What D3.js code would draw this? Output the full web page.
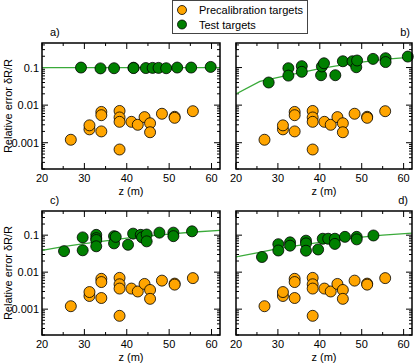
<!DOCTYPE html>
<html>
<head>
<meta charset="utf-8">
<script src="https://cdn.jsdelivr.net/npm/d3@7"></script>
<style>
  body { margin: 0; background: #fff; }
  svg { display: block; font-family: "Liberation Sans", Arial, sans-serif; }
</style>
</head>
<body>
<div id="chart"></div>
<script>
// precalibration targets (same in every panel)
var preZ   = [26.8, 31.2, 31.2, 34.0, 34.0, 34.0, 38.3, 38.3, 38.3, 38.3, 41.1, 42.6, 44.2, 45.5, 45.5, 48.3, 51.3, 51.3, 55.6];
var preErr = [0.0012, 0.00227, 0.0029, 0.0066, 0.0054, 0.0020, 0.0070, 0.0047, 0.0036, 0.00066, 0.0036, 0.0030, 0.0048, 0.0033, 0.0019, 0.0059, 0.0049, 0.0046, 0.0069];

// test targets, per panel
var testZA   = [29.2, 33.8, 37.0, 41.6, 41.6, 44.5, 46.1, 47.5, 49.3, 51.9, 55.2, 59.8];
var testErrA = [0.100, 0.095, 0.096, 0.099, 0.097, 0.097, 0.098, 0.098, 0.096, 0.100, 0.100, 0.104];

var testZB   = [27.8, 32.5, 32.5, 35.7, 35.7, 40.3, 40.5, 41.0, 43.7, 45.5, 47.8, 48.7, 48.9, 52.7, 55.7, 55.7, 61.0];
var testErrB = [0.040, 0.096, 0.061, 0.109, 0.077, 0.0625, 0.107, 0.130, 0.0625, 0.147, 0.147, 0.102, 0.154, 0.170, 0.177, 0.140, 0.196];

var testZC   = [25.2, 29.6, 29.6, 32.8, 32.8, 32.8, 32.8, 37.0, 37.0, 37.4, 40.3, 41.5, 43.3, 43.6, 44.7, 44.7, 47.7, 51.0, 51.0, 55.4];
var testErrC = [0.037, 0.087, 0.039, 0.102, 0.083, 0.074, 0.050, 0.094, 0.060, 0.090, 0.055, 0.110, 0.102, 0.087, 0.104, 0.068, 0.117, 0.117, 0.094, 0.127];

var testZD   = [26.2, 30.1, 30.1, 32.9, 32.9, 36.7, 36.7, 36.7, 39.6, 40.7, 42.0, 43.6, 43.6, 46.0, 48.8, 48.8, 52.8];
var testErrD = [0.0257, 0.057, 0.0385, 0.064, 0.052, 0.071, 0.060, 0.038, 0.041, 0.080, 0.080, 0.080, 0.058, 0.090, 0.090, 0.077, 0.098];

// green curves
var fitZA = [20, 62];
var fitA  = [0.1, 0.1];
var fitZB = [20, 25.7, 32, 40, 48, 56, 62];
var fitB  = [0.0199, 0.043, 0.061, 0.094, 0.131, 0.167, 0.189];
var fitZC = [20, 25, 30, 35, 40, 45, 50, 55, 62];
var fitC  = [0.039, 0.049, 0.059, 0.070, 0.083, 0.095, 0.107, 0.120, 0.135];
var fitZD = [20, 25, 30, 35, 40, 45, 50, 55, 62];
var fitD  = [0.026, 0.033, 0.043, 0.053, 0.064, 0.076, 0.088, 0.100, 0.113];

var xTicks = [20, 30, 40, 50, 60];
var yTicks = [0.1, 0.01, 0.001];
var yTickLabels = ['0.1', '0.01', '0.001'];
var legendLabels = ['Precalibration targets', 'Test targets'];

var ORANGE = '#ffa500', GREEN = '#008000', LINE = '#3aaa3a';

var svg = d3.select('#chart').append('svg')
    .attr('width', 415).attr('height', 363);

var panels = [
    { id: 'a', x: 42,  y: 43,  w: 178, h: 126, tz: testZA, te: testErrA, fz: fitZA, fe: fitA, yLabels: true,  tag: 'a)', tagX: 50,  tagAnchor: 'start' },
    { id: 'b', x: 236, y: 43,  w: 176, h: 126, tz: testZB, te: testErrB, fz: fitZB, fe: fitB, yLabels: false, tag: 'b)', tagX: 410, tagAnchor: 'end' },
    { id: 'c', x: 42,  y: 211, w: 178, h: 124, tz: testZC, te: testErrC, fz: fitZC, fe: fitC, yLabels: true,  tag: 'c)', tagX: 50,  tagAnchor: 'start' },
    { id: 'd', x: 236, y: 211, w: 176, h: 124, tz: testZD, te: testErrD, fz: fitZD, fe: fitD, yLabels: false, tag: 'd)', tagX: 408, tagAnchor: 'end' }
];

panels.forEach(function (p) {
    var x = d3.scaleLinear().domain([20, 62]).range([0, p.w]);
    var y = d3.scaleLog().domain([0.0002, 0.45]).range([p.h, 0]);

    var g = svg.append('g').attr('transform', 'translate(' + p.x + ',' + p.y + ')');

    g.append('clipPath').attr('id', 'clip-' + p.id)
        .append('rect').attr('width', p.w).attr('height', p.h);

    // ticks, all pointing inward, on all four sides
    var majorX = d3.range(20, 62.01, 10), minorX = d3.range(25, 62.01, 10);
    var majorY = [], minorY = [];
    [0.0001, 0.001, 0.01, 0.1].forEach(function (dec) {
        for (var k = 1; k < 10; k++) {
            var v = dec * k;
            if (v < 0.0002 || v > 0.45) continue;
            (k === 1 ? majorY : minorY).push(v);
        }
    });
    var tk = g.append('g').attr('stroke', '#000').attr('stroke-width', 1);
    function xTick(v, len) {
        tk.append('line').attr('x1', x(v)).attr('x2', x(v)).attr('y1', p.h).attr('y2', p.h - len);
        tk.append('line').attr('x1', x(v)).attr('x2', x(v)).attr('y1', 0).attr('y2', len);
    }
    function yTick(v, len) {
        tk.append('line').attr('y1', y(v)).attr('y2', y(v)).attr('x1', 0).attr('x2', len);
        tk.append('line').attr('y1', y(v)).attr('y2', y(v)).attr('x1', p.w).attr('x2', p.w - len);
    }
    majorX.forEach(function (v) { xTick(v, 6); });
    minorX.forEach(function (v) { xTick(v, 3); });
    majorY.forEach(function (v) { yTick(v, 6); });
    minorY.forEach(function (v) { yTick(v, 3); });

    // fit line
    var line = d3.line()
        .x(function (d, i) { return x(p.fz[i]); })
        .y(function (d) { return y(d); });
    g.append('path')
        .attr('clip-path', 'url(#clip-' + p.id + ')')
        .attr('d', line(p.fe))
        .attr('fill', 'none')
        .attr('stroke', LINE)
        .attr('stroke-width', 1.3);

    // test targets
    g.append('g').selectAll('circle')
        .data(p.tz)
        .join('circle')
        .attr('cx', function (d) { return x(d); })
        .attr('cy', function (d, i) { return y(p.te[i]); })
        .attr('r', 5.5)
        .attr('fill', GREEN)
        .attr('stroke', '#000')
        .attr('stroke-width', 0.8);

    // precalibration targets
    g.append('g').selectAll('circle')
        .data(preZ)
        .join('circle')
        .attr('cx', function (d) { return x(d); })
        .attr('cy', function (d, i) { return y(preErr[i]); })
        .attr('r', 5.5)
        .attr('fill', ORANGE)
        .attr('stroke', '#000')
        .attr('stroke-width', 0.8);

    // frame
    g.append('rect')
        .attr('width', p.w).attr('height', p.h)
        .attr('fill', 'none').attr('stroke', '#000').attr('stroke-width', 1.5);

    // x tick labels
    g.append('g').selectAll('text')
        .data(xTicks)
        .join('text')
        .attr('x', function (d) { return x(d); })
        .attr('y', p.h + 13)
        .attr('text-anchor', 'middle')
        .attr('font-size', 11)
        .text(function (d) { return d; });

    g.append('text')
        .attr('x', p.w / 2).attr('y', p.h + 26)
        .attr('text-anchor', 'middle')
        .attr('font-size', 11)
        .text('z (m)');

    if (p.yLabels) {
        g.append('g').selectAll('text')
            .data(yTicks)
            .join('text')
            .attr('x', -3)
            .attr('y', function (d) { return y(d) + 4; })
            .attr('text-anchor', 'end')
            .attr('font-size', 11)
            .text(function (d, i) { return yTickLabels[i]; });

        g.append('text')
            .attr('transform', 'translate(' + (-p.x + 12) + ',' + (p.h / 2) + ') rotate(-90)')
            .attr('text-anchor', 'middle')
            .attr('font-size', 11)
            .text('Relative error δR/R');
    }

    svg.append('text')
        .attr('x', p.tagX).attr('y', p.y - 7)
        .attr('text-anchor', p.tagAnchor)
        .attr('font-size', 11)
        .text(p.tag);
});

// legend
var lg = svg.append('g');
lg.append('rect')
    .attr('x', 172.5).attr('y', 0.5).attr('width', 135).attr('height', 33)
    .attr('fill', '#fff').attr('stroke', '#444').attr('stroke-width', 1);
[ORANGE, GREEN].forEach(function (c, i) {
    lg.append('circle')
        .attr('cx', 182).attr('cy', 10 + i * 14.5).attr('r', 4.5)
        .attr('fill', c).attr('stroke', '#000').attr('stroke-width', 0.8);
    lg.append('text')
        .attr('x', 199).attr('y', 14 + i * 14.5)
        .attr('font-size', 11)
        .text(legendLabels[i]);
});
</script>
</body>
</html>
